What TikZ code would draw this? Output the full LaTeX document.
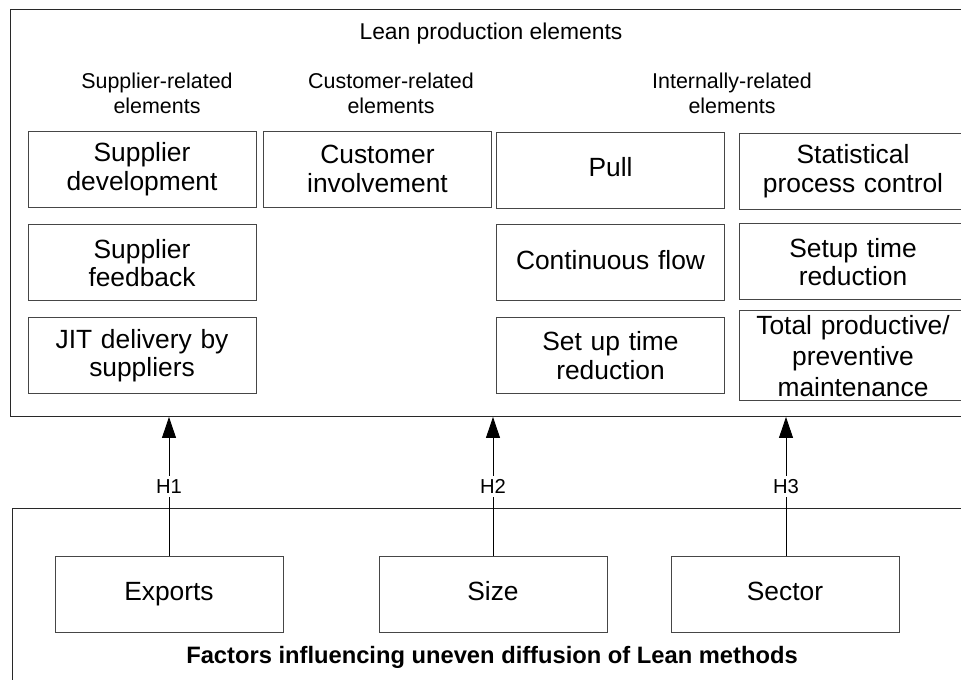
\documentclass[tikz,border=0pt]{standalone}
\usepackage{fontspec}
\setmainfont{Liberation Sans}
\usepackage{xcolor}
\definecolor{frameline}{RGB}{40,40,40}
\definecolor{boxline}{RGB}{70,70,70}
\usepackage{tikz}
\usetikzlibrary{arrows.meta,positioning}
\tikzset{
  lp_frame/.style={rectangle,draw=frameline,line width=0.6pt,
    inner sep=0pt},
  lp_box/.style={rectangle,draw=boxline,line width=0.5pt,
    minimum width=4.56cm,minimum height=1.52cm,
    text width=4.4cm,align=center,inner sep=0pt,
    font=\fontsize{15}{16.2}\selectfont},
  lp_one/.style={lp_box,text height=0.72em,text depth=0pt},
  lp_head/.style={font=\fontsize{13}{15}\selectfont,inner sep=0pt},
  lp_sub/.style={align=center,inner sep=0pt,
    font=\fontsize{12.2}{14.2}\selectfont},
  lp_hyp/.style={fill=white,inner sep=2pt,
    font=\fontsize{11.5}{12}\selectfont},
  arr/.style={-{Triangle[length=0.42cm,width=0.28cm]},line width=0.5pt,draw=black},
}

\begin{document}
\begin{tikzpicture}[x=0.02cm,y=-0.02cm]
  \useasboundingbox (0,0) rectangle (961,680);
  \clip (0,0) rectangle (961,680);
  % outer frames
  \node (leanbox) [lp_frame,anchor=north west,
    minimum width=19.3cm,minimum height=8.14cm] at (10,9) {};
  \node (factbox) [lp_frame,anchor=north west,
    minimum width=19.5cm,minimum height=3.9cm] at (12,508) {};
  % headings
  \node (lean) [lp_head] at (491,34) {Lean production elements};
  \node (supl) [lp_sub] at (157,93) {Supplier-related\\elements};
  \node (cusl) [lp_sub] at (391,93) {Customer-related\\elements};
  \node (intl) [lp_sub] at (732,93) {Internally-related\\elements};
  % lean elements
  \node (sdev) [lp_box] at (142,169) {Supplier\\development};
  \node (cinv) [lp_box] at (377.5,169) {Customer\\involvement};
  \node (pull) [lp_one] at (610.5,170) {Pull};
  \node (spc)  [lp_box] at (853,171) {Statistical\\process control};
  \node (sfb)  [lp_box,below=0.34cm of sdev] {Supplier\\feedback};
  \node (cflow)[lp_one,below=0.32cm of pull] {Continuous flow};
  \node (setup)[lp_box,below=0.28cm of spc] {Setup time\\reduction};
  \node (jit)  [lp_box,below=0.32cm of sfb] {JIT delivery by\\suppliers};
  \node (sut)  [lp_box,below=0.32cm of cflow] {Set up time\\reduction};
  \node (tpm)  [lp_box,below=0.2cm of setup,minimum height=1.8cm,
    font=\fontsize{15}{17.6}\selectfont]
    {Total productive/\\preventive\\maintenance};
  % factors
  \node (exp) [lp_one] at (169,594) {Exports};
  \node (size)[lp_one] at (493,594) {Size};
  \node (sect)[lp_one] at (785,594) {Sector};
  \node (fact)[font=\bfseries\fontsize{13.5}{15}\selectfont,inner sep=0pt]
    at (492,657) {Factors influencing uneven diffusion of Lean methods};
  % hypotheses
  \draw[arr] (exp.north) -- (exp.north |- leanbox.south)
    node[lp_hyp,pos=0.5] {H1};
  \draw[arr] (size.north) -- (size.north |- leanbox.south)
    node[lp_hyp,pos=0.5] {H2};
  \draw[arr] ([xshift=0.02cm]sect.north) -- ([xshift=0.02cm]sect.north |- leanbox.south)
    node[lp_hyp,pos=0.5] {H3};
\end{tikzpicture}
\end{document}
